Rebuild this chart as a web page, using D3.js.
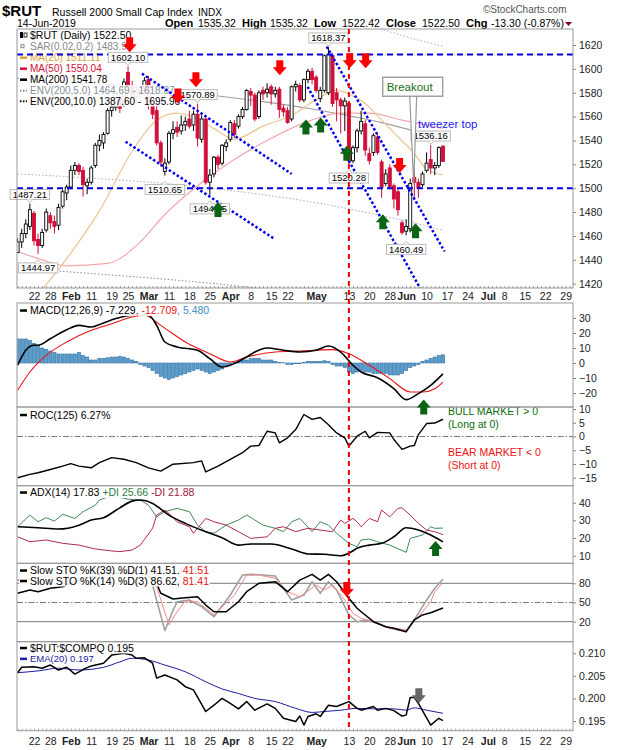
<!DOCTYPE html>
<html>
<head>
<meta charset="utf-8">
<script src="https://cdn.jsdelivr.net/npm/d3@7"></script>
<style>
body { margin: 0; background: #fff; }
</style>
</head>
<body>
<script>
var W = 620, H = 750, L = 17, R = 573;

// ---------- data (day index 0 = 22 Jan 2019, one step per trading day) ----------
var firstDay = -4;
// daily candles [open, high, low, close]
var ohlc = [
  [1446,1458,1446,1455],[1455,1466,1450,1462],[1462,1474,1458,1470],[1468,1487.21,1465,1482],
  [1479,1481,1452,1456],[1457,1462,1444.97,1452],[1452,1466,1450,1463],[1465,1483,1463,1480],[1477,1480,1466,1471],
  [1472,1477,1462,1468],[1469,1487,1465,1484],[1485,1499,1483,1497],[1496,1503,1490,1501],[1501,1519,1499,1515],
  [1515,1522,1511,1519],[1519,1521,1511,1514],[1515,1518,1493,1503],[1502,1508,1495,1505],[1505,1519,1503,1517],
  [1519,1538,1517,1536],[1536,1545,1531,1540],[1538,1547,1533,1545],[1546,1567,1545,1565],[1565,1570,1560,1568],
  [1568,1578,1565,1575],[1575,1577,1563,1567],[1570,1592,1568,1589],[1597,1602.10,1582,1586],[1586,1590,1574,1577],
  [1577,1586,1571,1582],[1582,1586,1573,1579],[1582,1593,1578,1590],[1591,1594,1566,1570],[1570,1572,1558,1562],
  [1565,1569,1536,1538],[1538,1540,1518,1522],[1514,1525,1510.65,1521],[1522,1548,1520,1546],[1546,1556,1541,1549],
  [1551,1556,1543,1547],[1548,1561,1545,1553],[1553,1560,1548,1556],[1558,1565,1550,1552],[1553,1565,1548,1562],
  [1562,1570.89,1535,1542],[1541,1561,1538,1558],[1558,1559,1503,1505],[1505,1516,1494.45,1511],[1512,1527,1509,1526],
  [1526,1528,1516,1520],[1521,1537,1519,1536],[1535,1541,1531,1538],[1541,1557,1539,1555],[1554,1557,1542,1545],
  [1552,1562,1550,1560],[1560,1568,1558,1566],[1566,1583,1565,1582],[1581,1584,1569,1578],[1578,1580,1556,1558],
  [1560,1582,1558,1580],[1582,1585,1574,1579],[1580,1588,1576,1583],[1585,1587,1570,1579],[1579,1585,1576,1582],
  [1583,1585,1559,1566],[1567,1570,1560,1564],[1565,1568,1554,1555],[1558,1586,1556,1585],[1585,1590,1581,1587],
  [1586,1588,1572,1574],[1574,1592,1572,1591],[1591,1600,1588,1598],[1598,1601,1587,1591],[1593,1595,1580,1582],
  [1575,1585,1572,1582],[1582,1612,1580,1611],[1580,1618.37,1578,1612],[1611,1613,1568,1571],[1580,1584,1556,1574],
  [1574,1576,1546,1569],[1569,1576,1548,1573],[1571,1572,1520.28,1523],[1523,1536,1521,1534],[1534,1550,1530,1548],
  [1548,1565,1545,1556],[1554,1557,1527,1532],[1529,1534,1520,1523],[1530,1546,1527,1544],[1543,1545,1528,1530],
  [1522,1524,1492,1501],[1504,1516,1502,1512],[1517,1520,1499,1501],[1502,1504,1483,1491],[1497,1500,1477,1482],
  [1471,1473,1461,1463],[1464,1474,1460.49,1468],[1466,1508,1463,1504],[1509,1516,1492,1505],[1505,1508,1492,1500],
  [1503,1514,1501,1512],[1515,1530,1513,1521],[1524,1536.16,1512,1517],[1517,1522,1511,1519],[1519,1535,1517,1534],
  [1535.32,1535.32,1522.42,1522.50]
];

var tickDays  = [0,4,9,14,19,23,28,33,38,43,48,53,58,62,69,77,82,87,91,96,101,106,111,115,120,125,130];
var tickNames = ["22","28","Feb","11","19","25","Mar","11","18","25","Apr","8","15","22","May","13","20","28","Jun","10","17","24","Jul","8","15","22","29"];
var monthNames = ["Feb","Mar","Apr","May","Jun","Jul"];
var priceTicks = [1420,1440,1460,1480,1500,1520,1540,1560,1580,1600,1620];

// overlays [day, value]
var ma20 = [[2,1415],[8,1441],[16,1481],[24,1531],[30,1557],[35,1563],[40,1558],[45,1548],[49,1541],[51,1543],[56,1552],[63,1561],[68,1572],[74,1582],[77,1579],[81,1571],[85,1557],[89,1543],[93,1529],[96,1516],[100,1511.11]];
var ma50 = [[-4,1447],[2,1440],[8,1435],[18,1437],[26,1455],[32,1478],[40,1502],[48,1522],[57,1540],[67,1556],[75,1563],[82,1563],[90,1557],[100,1550.04]];
var ma200 = [[-4,1592],[16,1587],[38,1580],[55,1573],[67,1567],[78,1560],[85,1555],[93,1548],[100,1541.78]];
var env5Lo = [[-4,1512],[16,1508],[38,1502],[55,1495],[67,1489],[78,1482],[85,1477],[93,1471],[100,1464.69]];
var env5Hi = [[67,1645],[78,1638],[85,1633],[93,1625],[100,1618.87]];
var env10Lo = [[-4,1433],[16,1428],[38,1422],[55,1416],[67,1410]];

var levels = [1612, 1500];
var trendLines = [
  [[26.4,1596],[63,1512]],
  [[22.4,1539],[58.6,1458]],
  [[66.9,1585],[95.1,1412]],
  [[71.6,1618.6],[100.4,1447]]
];
var markerDay = 77;

var hiLoLabels = [[-1,1487.21,"hi"],[1,1444.97,"lo"],[23,1602.10,"hi"],[32,1510.65,"lo"],[40,1570.89,"hi"],
  [43,1494.45,"lo"],[72,1618.37,"hi"],[77,1520.28,"lo"],[91,1460.49,"lo"],[97,1536.16,"hi"]];
var redArrows = [[23.4,1614],[35.2,1571],[39.6,1584.6],[60.1,1594.7],[77.2,1600.6],[81.1,1600.6],[89.4,1512.8]];
var greenArrows = [[45,1488.4],[66.5,1557.6],[70.1,1559.2],[76.5,1535.6],[85.3,1478.2],[93.3,1470.6]];

// MACD(12,26,9)
var macdLine = [[-4,-1.5],[-2,8.5],[0,11.8],[1,11.8],[4,16.2],[8,22.2],[11,25.1],[14,24],[17,26.7],[20,29.6],[24,31.8],[28,31.8],[30,25.1],[32,14],[35,10.7],[40,8.5],[43,2.9],[46,-2.7],[49,-0.4],[52,4],[54,7.3],[57,10],[61,8.5],[65,7.3],[69,8.5],[72,11.3],[75,7.3],[78,-1.5],[80,-6],[84,-9.8],[88,-17.1],[91,-24.4],[94,-20.4],[97,-14.9],[100,-7.229]];
var macdSignal = [[-4,-18.2],[-1,-6],[3,5.1],[8,14],[14,21.8],[19,26.2],[24,30.7],[27,31.8],[31,25.1],[37,14],[43,6.2],[48,0.7],[52,4],[59,7.3],[65,8],[73,8.9],[77,6.2],[82,-1.5],[87,-10.4],[92,-19.3],[95,-19.3],[98,-17.1],[100,-12.709]];
var macdHist = [16,16,16,15, 13,12, 10,9,8, 7,6,6,6,6, 6,7, 5,4, 2,2,3,3, 3.5,4,4,4.5, 4,3,2,1, -1,-2,
  -3,-5,-7,-9, -10,-11,-10, -9,-8,-7,-6, -5,-4, -5,-6,-7,-6, -5,-4,-2, -1,0.3, 1,2,2,3,3,3,2,2,2,1,
  0.5,0.2, -1,-1,-0.5,-0.5, 0.5,1,1,1,1,1.5,1, -1,-2,-2,-3, -6,-7,-6,-5, -6,-6,-7,-7,-7,-7,-8,
  -8,-8,-7,-5, -3,-2,-1, 1,2,3,4,5,5.48];

// ROC(125)
var rocLine = [[-4,-15],[-1,-13.8],[1,-13.2],[4,-12],[7,-10.8],[9,-9.9],[11,-10.8],[14,-11.4],[16,-9.5],[19,-7.7],[22,-8.3],[25,-9.5],[28,-11.4],[31,-12.6],[34,-10.1],[39,-9.5],[41,-8.9],[42,-12.9],[45,-10.8],[48,-8.3],[51,-5.9],[53,-3.5],[55,-3.3],[57,1.9],[59,1.3],[60,-2.3],[62,-0.5],[64,2.5],[66,8],[68,6.2],[70,6.9],[72,4.3],[74,1.3],[76,-0.5],[77,-3.5],[79,0.1],[81,1.9],[82,-0.5],[84,1.5],[87,1.3],[88,-1.1],[90,-4.7],[92,-3.5],[93,-3.3],[94,0.7],[96,4.7],[98,4.9],[100,6.27]];

// ADX(14)
var adxLine = [[-4,26.4],[1,25.8],[6,25.1],[11,27.3],[14,30.2],[17,31.5],[21,37.1],[24,40.9],[26,41.5],[29,39.6],[33,33],[37,28.3],[42,23.6],[46,20.2],[50,16],[53,16.6],[58,16.6],[63,13.8],[67,11],[71,10.8],[75,10],[77,11.4],[79,14.2],[82,16],[85,17],[88,20.7],[91,25.8],[94,24.5],[97,21.7],[100,17.83]];
var plusDI = [[-4,26.4],[-1,33],[1,29.2],[3,31.5],[5,29.6],[7,33.4],[10,31.1],[12,34.9],[15,38.6],[16,41.5],[19,44],[23,42],[26,41.5],[28,38.6],[30,32],[32,34.9],[35,36.8],[38,34.9],[40,27.3],[42,23.6],[44,22.7],[47,27.3],[50,30.2],[52,33],[54,30.2],[56,27.3],[59,25.5],[61,23.6],[63,29.2],[65,31.1],[68,23.6],[70,29.2],[72,27.3],[74,22.7],[77,17],[79,15.1],[80,18.9],[82,19.4],[84,17.9],[87,16],[91,11.9],[92,19.8],[95,21.7],[97,26.4],[98,25.5],[100,25.66]];
var minusDI = [[-4,20.7],[-1,17.9],[3,18.9],[7,17],[11,16],[15,13.8],[19,12.7],[21,12.3],[24,13.2],[26,16],[29,25.5],[30,33],[32,35.8],[33,34],[35,29.2],[38,26.4],[39,22.7],[42,31.1],[44,29.2],[47,27.3],[50,23.6],[53,19.8],[57,20.7],[59,25.5],[61,26.4],[64,23.6],[67,25.5],[70,24.5],[73,23.6],[75,30.2],[76,28.3],[78,31.1],[79,29.2],[80,26.4],[82,31.1],[84,29.2],[85,35.8],[87,32],[89,36.8],[90,37.1],[92,33],[94,28.3],[96,24.5],[98,23.6],[100,21.88]];

// Slow stochastics
var stoK39 = [[-4,64.4],[-1,69.5],[1,66.9],[4,72.2],[7,74.7],[12,88],[18,95],[24,97],[28,92],[30,80],[31,64.4],[34,55.5],[37,57.6],[40,59],[42,46],[44,35.6],[47,35.6],[50,51.2],[52,66.9],[55,80],[59,82.5],[62,66.9],[65,85],[68,94],[70,85],[72,94],[74,82.5],[77,56.6],[79,41],[80,35.6],[83,20],[86,12.2],[88,9.7],[91,4.4],[93,22.7],[95,30.5],[97,34.1],[100,41.51]];
var stoK14 = [[-4,85],[2,90],[8,92],[14,95],[20,96],[26,90],[29,77.3],[32,6],[34,38],[35,51],[38,54],[41,43.4],[44,27.8],[48,61.7],[51,93],[53,94],[56,93],[59,91.4],[61,72.2],[63,54],[66,61.7],[68,82.5],[70,64.4],[72,82.5],[74,69.5],[76,43.4],[77,30.5],[79,20],[81,22.7],[84,17.5],[87,9.7],[91,4.4],[94,33],[96,54],[98,72.2],[100,86.62]];
var stoD3 = [[-4,85],[2,89],[8,91],[14,94],[20,95],[26,92],[30,74.7],[33,15],[35,35.6],[37,52.3],[40,51],[42,41],[44,30.5],[49,61.7],[52,93],[55,93],[59,87.8],[62,66.9],[65,59],[69,77.3],[71,69.5],[73,77.3],[76,54],[78,33],[80,25.3],[83,20],[86,12.2],[91,7],[94,27.8],[97,51],[98,66.9],[100,81.41]];

// $RUT:$COMPQ ratio and its EMA(20)
var ratioLine = [[-4,0.2057],[-3,0.2069],[0,0.2070],[2,0.2067],[4,0.2074],[6,0.2063],[8,0.2069],[10,0.2054],[12,0.2064],[14,0.2072],[17,0.2078],[19,0.2096],[22,0.2100],[24,0.2096],[25,0.2089],[27,0.2090],[29,0.2078],[30,0.2045],[32,0.2052],[35,0.2041],[37,0.2026],[39,0.2019],[42,0.1971],[44,0.1985],[46,0.2000],[48,0.1989],[50,0.1977],[52,0.1993],[54,0.1974],[57,0.1988],[59,0.1978],[61,0.1956],[64,0.1949],[65,0.1961],[66,0.1941],[67,0.1960],[69,0.1966],[70,0.1960],[72,0.1985],[74,0.1982],[77,0.1993],[79,0.1978],[80,0.1974],[83,0.1982],[84,0.1974],[86,0.1978],[88,0.1973],[90,0.1961],[91,0.1963],[92,0.2002],[93,0.2002],[94,0.1989],[96,0.1957],[97,0.1941],[99,0.1956],[100,0.1951]];
var ratioEma = [[-4,0.2057],[1,0.2061],[6,0.2067],[11,0.2063],[17,0.2069],[21,0.2081],[24,0.2089],[28,0.2085],[32,0.2074],[37,0.2059],[42,0.2037],[46,0.2021],[50,0.2011],[54,0.2000],[59,0.1993],[64,0.1978],[68,0.1969],[71,0.1971],[75,0.1974],[79,0.1978],[83,0.1977],[88,0.1977],[91,0.1974],[93,0.1979],[96,0.1974],[100,0.1967]];

// ---------- scales ----------
var x = d3.scaleLinear().domain([-4.15, 131.8]).range([L, R]);
var panels = {
  main: [29, 288], macd: [303, 407], roc: [407, 485.7],
  adx: [485.7, 563.3], sto: [563.3, 641.7], cmp: [641.7, 730.7]
};
var yMain = d3.scaleLinear().domain([1420, 1620]).range([283.7, 45]);
var yMacd = d3.scaleLinear().domain([-20, 30]).range([393, 318]);
var yRoc  = d3.scaleLinear().domain([-15, 10]).range([477.7, 409]);
var yAdx  = d3.scaleLinear().domain([10, 40]).range([555.7, 502.7]);
var ySto  = d3.scaleLinear().domain([20, 80]).range([621.7, 583.3]);
var yCmp  = d3.scaleLinear().domain([0.195, 0.210]).range([721, 653.3]);

var svg = d3.select("body").append("svg")
    .attr("width", W).attr("height", H)
    .style("font-family", "'Liberation Sans', Arial, sans-serif");

var defs = svg.append("defs");
Object.keys(panels).forEach(function(k) {
  defs.append("clipPath").attr("id", "clip-" + k).append("rect")
    .attr("x", L).attr("y", panels[k][0]).attr("width", R - L).attr("height", panels[k][1] - panels[k][0]);
});

function layer(k) { return svg.append("g").attr("clip-path", "url(#clip-" + k + ")"); }

function drawLine(g, pts, ys, color, width, dash, curve) {
  var gen = d3.line().x(function(d) { return x(d[0]); }).y(function(d) { return ys(d[1]); });
  if (curve) gen.curve(curve);
  var p = g.append("path").attr("d", gen(pts)).attr("fill", "none")
    .attr("stroke", color).attr("stroke-width", width).attr("stroke-linejoin", "round");
  if (dash) p.attr("stroke-dasharray", dash);
  return p;
}

function hLine(g, ys, v, color, dash, width) {
  g.append("line").attr("x1", L).attr("x2", R).attr("y1", ys(v)).attr("y2", ys(v))
    .attr("stroke", color).attr("stroke-width", width || 1).attr("stroke-dasharray", dash || null);
}

// legend row with a white backing box
function legend(x0, yb, parts, size, icon) {
  var row = svg.append("g");
  var bg = row.append("rect").attr("fill", "#fff").attr("opacity", 0.9);
  var t = row.append("text").attr("x", x0 + 10).attr("y", yb).style("font-size", size + "px");
  parts.forEach(function(p) { t.append("tspan").attr("fill", p[1]).text(p[0]); });
  var bb = t.node().getBBox();
  bg.attr("x", x0 - 1).attr("y", bb.y).attr("width", bb.width + 12).attr("height", bb.height);
  var iy = yb - size * 0.33;
  if (icon) {
    if (icon.type === "line" || icon.type === "dots") {
      row.append("line").attr("x1", x0).attr("x2", x0 + 7).attr("y1", iy).attr("y2", iy)
        .attr("stroke", icon.color).attr("stroke-width", icon.type === "line" ? 2.5 : 2)
        .attr("stroke-dasharray", icon.type === "dots" ? "1.5,1.5" : null);
    } else if (icon.type === "square") {
      row.append("rect").attr("x", x0 + 1).attr("y", iy - 1.5).attr("width", 3).attr("height", 3)
        .attr("fill", "none").attr("stroke", icon.color);
    } else if (icon.type === "candle") {
      row.append("rect").attr("x", x0).attr("y", iy - 3).attr("width", 3).attr("height", 6).attr("fill", "#000");
      row.append("rect").attr("x", x0 + 4).attr("y", iy - 2).attr("width", 3).attr("height", 4)
        .attr("fill", "#fff").attr("stroke", "#000").attr("stroke-width", 0.8);
    }
  }
  return row;
}

function arrow(g, px, py, dir, color) {
  var s = dir === "up" ? 1 : -1;
  var pts = [[0,0],[-7,8],[-3.5,8],[-3.5,15],[3.5,15],[3.5,8],[7,8]];
  g.append("path")
    .attr("d", "M" + pts.map(function(q) { return (px + q[0]) + "," + (py + s * q[1]); }).join("L") + "Z")
    .attr("fill", color);
}

// ---------- header ----------
svg.append("text").attr("x", 2).attr("y", 15.5).style("font-size", "15px").style("font-weight", "bold").text("$RUT");
svg.append("text").attr("x", 52).attr("y", 15.5).style("font-size", "10.5px").text("Russell 2000 Small Cap Index");
svg.append("text").attr("x", 198).attr("y", 15.5).style("font-size", "10px").text("INDX");
svg.append("text").attr("x", 483).attr("y", 13).style("font-size", "10px").attr("fill", "#555").text("\u00A9StockCharts.com");
svg.append("text").attr("x", 17).attr("y", 27).style("font-size", "10.5px").text("14-Jun-2019");
var hdr = [["Open", 165, true], ["1535.32", 198], ["High", 242, true], ["1535.32", 270], ["Low", 314, true],
  ["1522.42", 342], ["Close", 386, true], ["1522.50", 422], ["Chg", 466, true], ["-13.30 (-0.87%)", 491]];
hdr.forEach(function(h) {
  svg.append("text").attr("x", h[1]).attr("y", 27).style("font-size", h[2] ? "11px" : "10.5px")
    .style("font-weight", h[2] ? "bold" : "normal").text(h[0]);
});
svg.append("path").attr("d", "M565,22L572,22L568.5,26Z").attr("fill", "#800020");

// ---------- main price panel ----------
var gMain = layer("main");
drawLine(gMain, env10Lo, yMain, "#8a8a8a", 1, "1.5,2", d3.curveMonotoneX);
drawLine(gMain, env5Lo, yMain, "#a8adb8", 1, "1.5,2", d3.curveMonotoneX);
drawLine(gMain, env5Hi, yMain, "#a8adb8", 1, "1.5,2", d3.curveMonotoneX);
drawLine(gMain, ma200, yMain, "#a0a0a0", 1.2, null, d3.curveMonotoneX);
drawLine(gMain, ma50, yMain, "#f3a7ad", 1.2, null, d3.curveMonotoneX);
drawLine(gMain, ma20, yMain, "#ecc590", 1.2, null, d3.curveMonotoneX);

var candles = ohlc.map(function(d, k) { return { i: k + firstDay, o: d[0], h: d[1], l: d[2], c: d[3] }; });
var up = function(d) { return d.c >= d.o; };
gMain.selectAll(".wick").data(candles).enter().append("line").attr("class", "wick")
  .attr("x1", function(d) { return x(d.i); }).attr("x2", function(d) { return x(d.i); })
  .attr("y1", function(d) { return yMain(d.h); }).attr("y2", function(d) { return yMain(d.l); })
  .attr("stroke", function(d) { return up(d) ? "#000" : "#d0103a"; }).attr("stroke-width", 1);
gMain.selectAll(".body").data(candles).enter().append("rect").attr("class", "body")
  .attr("x", function(d) { return x(d.i) - 1.5; }).attr("width", 3)
  .attr("y", function(d) { return yMain(Math.max(d.o, d.c)); })
  .attr("height", function(d) { return Math.max(1, Math.abs(yMain(d.o) - yMain(d.c))); })
  .attr("fill", function(d) { return up(d) ? "#fff" : "#d0103a"; })
  .attr("stroke", function(d) { return up(d) ? "#000" : "#d0103a"; }).attr("stroke-width", 0.9);

// main legend
legend(20, 38.5, [["$RUT (Daily) 1522.50", "#000"]], 10.5, { type: "candle" });
legend(20, 49.5, [["SAR(0.02,0.2) 1483.96", "#8a8a8a"]], 10, { type: "square", color: "#8a8a8a" });
legend(20, 61, [["MA(20) 1511.11", "#e0a032"]], 10, { type: "line", color: "#e0a032" });
legend(20, 72, [["MA(50) 1550.04", "#d0103a"]], 10, { type: "line", color: "#d0103a" });
legend(20, 83, [["MA(200) 1541.78", "#000"]], 10, { type: "line", color: "#000" });
legend(20, 94, [["ENV(200,5.0) 1464.69 - 1618.87", "#86909a"]], 10, { type: "dots", color: "#86909a" });
legend(20, 104.5, [["ENV(200,10.0) 1387.60 - 1695.96", "#000"]], 10, { type: "dots", color: "#000" });

// trend lines and levels
var gAnn = layer("main");
levels.forEach(function(v) { hLine(gAnn, yMain, v, "#0000dd", "6,4", 2); });
trendLines.forEach(function(t) { drawLine(gAnn, t, yMain, "#0000ee", 2.5, "2.5,2.2"); });

// high / low value labels
var gLab = svg.append("g");
hiLoLabels.forEach(function(d) {
  var cx = x(d[0]), py = yMain(d[1]);
  var top = d[2] === "hi" ? py - 14 : py + 9;
  var g = gLab.append("g");
  var box = g.append("rect");
  var notch = g.append("path");
  var t = g.append("text").attr("x", cx).attr("y", top + 8.3).attr("text-anchor", "middle")
    .style("font-size", "9.5px").text(d[1].toFixed(2));
  var w = t.node().getComputedTextLength() + 5;
  box.attr("x", cx - w / 2).attr("y", top).attr("width", w).attr("height", 10)
    .attr("fill", "#fff").attr("stroke", "#bbb").attr("stroke-width", 1);
  if (d[2] === "hi") {
    notch.attr("d", "M" + (cx - 3) + "," + (top + 10) + "L" + cx + "," + (top + 13) + "L" + (cx + 3) + "," + (top + 10));
  } else {
    notch.attr("d", "M" + (cx - 3) + "," + top + "L" + cx + "," + (top - 3) + "L" + (cx + 3) + "," + top);
  }
  notch.attr("fill", "#fff").attr("stroke", "#bbb");
});

// breakout callout
var bo = { i: 92.6, v: 1504, boxV: 1585 };
var bx = x(bo.i), by = yMain(bo.boxV);
svg.append("path")
  .attr("d", "M" + (bx - 3) + "," + (by + 9) + "L" + (bx + 1) + "," + yMain(bo.v) + "L" + (bx + 4) + "," + (by + 9))
  .attr("fill", "#fff").attr("stroke", "#999").attr("stroke-width", 1.2);
svg.append("rect").attr("x", bx - 30).attr("y", by - 9.5).attr("width", 60).attr("height", 19)
  .attr("fill", "#fff").attr("stroke", "#a0a0a0").attr("stroke-width", 1.5);
svg.append("text").attr("x", bx - 26).attr("y", by + 4).style("font-size", "11.5px")
  .attr("fill", "#1a6e1a").text("Breakout");
svg.append("text").attr("x", x(93.9)).attr("y", yMain(1554.2) + 4).style("font-size", "11.5px")
  .attr("fill", "#1a1aee").text("tweezer top");

// ---------- MACD ----------
var gMacd = layer("macd");
gMacd.selectAll(".hist").data(macdHist).enter().append("rect").attr("class", "hist")
  .attr("x", function(d, k) { return x(k + firstDay) - 1.6; }).attr("width", 3.2)
  .attr("y", function(d) { return yMacd(Math.max(0, d)); })
  .attr("height", function(d) { return Math.abs(yMacd(d) - yMacd(0)); })
  .attr("fill", "#5a9ecf").attr("stroke", "#2f6f9f").attr("stroke-width", 0.6);
drawLine(gMacd, macdSignal, yMacd, "#ee1111", 1.1, null, d3.curveMonotoneX);
drawLine(gMacd, macdLine, yMacd, "#000", 1.6, null, d3.curveMonotoneX);
legend(20, 314, [["MACD(12,26,9) -7.229", "#000"], [", -12.709", "#ee1111"], [", 5.480", "#3a8fc0"]], 10.5,
  { type: "line", color: "#000" });

// ---------- ROC ----------
var gRoc = layer("roc");
hLine(gRoc, yRoc, 0, "#777", "6,2,1.5,2");
drawLine(gRoc, rocLine, yRoc, "#000", 1.4);
legend(20, 418.5, [["ROC(125) 6.27%", "#000"]], 10.5, { type: "line", color: "#000" });
svg.append("text").attr("x", 448).attr("y", 415).style("font-size", "10.5px").attr("fill", "#0a6e0a").text("BULL MARKET > 0");
svg.append("text").attr("x", 448).attr("y", 428).style("font-size", "10.5px").attr("fill", "#0a6e0a").text("(Long at 0)");
svg.append("text").attr("x", 448).attr("y", 456).style("font-size", "10.5px").attr("fill", "#ee1111").text("BEAR MARKET < 0");
svg.append("text").attr("x", 448).attr("y", 469).style("font-size", "10.5px").attr("fill", "#ee1111").text("(Short at 0)");

// ---------- ADX ----------
var gAdx = layer("adx");
drawLine(gAdx, plusDI, yAdx, "#3d8a55", 1);
drawLine(gAdx, minusDI, yAdx, "#b02a4c", 1);
drawLine(gAdx, adxLine, yAdx, "#000", 1.6, null, d3.curveMonotoneX);
legend(20, 496, [["ADX(14) 17.83 ", "#000"], ["+DI 25.66 ", "#2e7d45"], ["-DI 21.88", "#a0183c"]], 10.5,
  { type: "line", color: "#000" });

// ---------- Slow stochastics ----------
var gSto = layer("sto");
hLine(gSto, ySto, 80, "#777");
hLine(gSto, ySto, 20, "#777");
hLine(gSto, ySto, 50, "#777", "6,2,1.5,2");
drawLine(gSto, stoK14, ySto, "#a0a0a0", 1.6);
drawLine(gSto, stoD3, ySto, "#f08888", 1);
drawLine(gSto, stoK39, ySto, "#000", 1.5);
legend(20, 574, [["Slow STO %K(39) %D(1) 41.51, ", "#000"], ["41.51", "#ee1111"]], 10.5, { type: "line", color: "#000" });
legend(20, 584.5, [["Slow STO %K(14) %D(3) 86.62, ", "#000"], ["81.41", "#ee1111"]], 10.5, { type: "line", color: "#000" });

// ---------- ratio ----------
var gCmp = layer("cmp");
drawLine(gCmp, ratioEma, yCmp, "#1c1ca0", 1, null, d3.curveMonotoneX);
drawLine(gCmp, ratioLine, yCmp, "#000", 1.5);
legend(20, 651.5, [["$RUT:$COMPQ 0.195", "#000"]], 10.5, { type: "line", color: "#000" });
legend(20, 662, [["EMA(20) 0.197", "#1c1ca0"]], 9.5, { type: "line", color: "#1c1ca0" });

// ---------- panel frames and axes ----------
Object.keys(panels).forEach(function(k) {
  svg.append("rect").attr("x", L).attr("y", panels[k][0]).attr("width", R - L)
    .attr("height", panels[k][1] - panels[k][0]).attr("fill", "none").attr("stroke", "#999");
});

function yAxis(ys, vals, fmt) {
  var g = svg.append("g").attr("transform", "translate(" + R + ",0)")
    .call(d3.axisRight(ys).tickValues(vals).tickSize(3).tickPadding(3).tickFormat(fmt || d3.format("d")));
  g.select(".domain").remove();
  g.selectAll("line").attr("stroke", "#888");
  g.selectAll("text").style("font-size", "10.5px").attr("fill", "#222")
    .style("font-family", "'Liberation Sans', Arial, sans-serif");
}
yAxis(yMain, priceTicks);
yAxis(yMacd, [-20, -10, 0, 10, 20, 30]);
yAxis(yRoc, [-15, -10, -5, 0, 5, 10]);
yAxis(yAdx, [10, 20, 30, 40]);
yAxis(ySto, [20, 50, 80]);
yAxis(yCmp, [0.195, 0.200, 0.205, 0.210], d3.format(".3f"));

function xAxis(yPos, labelY) {
  var minor = svg.append("g").attr("transform", "translate(0," + yPos + ")")
    .call(d3.axisTop(x).tickValues(d3.range(-4, 132)).tickSize(2).tickFormat(""));
  minor.select(".domain").remove();
  minor.selectAll("line").attr("stroke", "#999");
  var g = svg.append("g").attr("transform", "translate(0," + yPos + ")")
    .call(d3.axisBottom(x).tickValues(tickDays).tickSize(0)
      .tickFormat(function(d, k) { return tickNames[k]; }));
  g.select(".domain").remove();
  g.selectAll("text").attr("y", labelY).attr("dy", 0).attr("fill", "#222")
    .style("font-size", "10.5px").style("font-family", "'Liberation Sans', Arial, sans-serif")
    .style("font-weight", function(d, k) { return monthNames.indexOf(tickNames[k]) >= 0 ? "bold" : "normal"; });
}
xAxis(panels.main[1], 12);
xAxis(panels.cmp[1], 14);

// ---------- signal arrows and date marker ----------
svg.append("line").attr("x1", x(markerDay)).attr("x2", x(markerDay))
  .attr("y1", panels.main[0]).attr("y2", panels.cmp[1])
  .attr("stroke", "#ee0000").attr("stroke-width", 2).attr("stroke-dasharray", "5,4");

var gArr = svg.append("g");
redArrows.forEach(function(a) { arrow(gArr, x(a[0]), yMain(a[1]), "down", "#ff0000"); });
greenArrows.forEach(function(a) { arrow(gArr, x(a[0]), yMain(a[1]), "up", "#0a6414"); });
arrow(gArr, x(95.3), yMacd(-24.4), "up", "#0a6414");
arrow(gArr, x(98.2), yAdx(18.3), "up", "#0a6414");
arrow(gArr, x(76.5), ySto(58.6), "down", "#ff0000");
arrow(gArr, x(94.1), yCmp(0.19892), "down", "#666");
</script>
</body>
</html>
